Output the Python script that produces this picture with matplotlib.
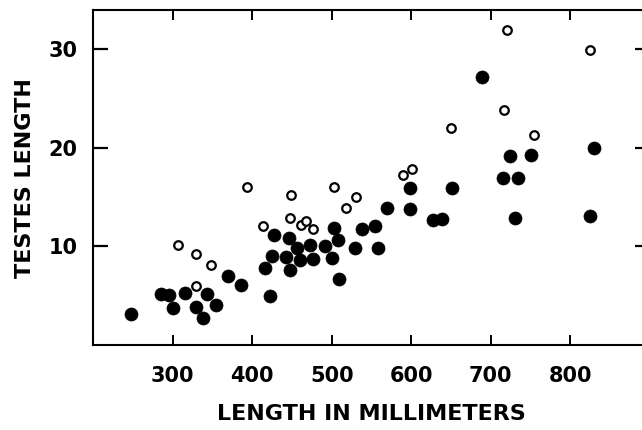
import matplotlib
matplotlib.use("Agg")
import matplotlib.pyplot as plt

# Filled circles
filled_x = [248, 285, 296, 301, 315, 329, 338, 343, 355, 370, 386, 416, 423, 425, 428,
            443, 446, 448, 457, 460, 473, 477, 491, 500, 503, 508, 509, 529, 538, 554,
            558, 570, 598, 599, 627, 639, 651, 689, 715, 724, 730, 734, 751, 824, 830]
filled_y = [3.1, 5.2, 5.1, 3.8, 5.3, 3.9, 2.7, 5.2, 4.1, 7.0, 6.1, 7.8, 5.0, 9.0, 11.2,
            8.9, 10.9, 7.6, 9.8, 8.6, 10.2, 8.7, 10.0, 8.8, 11.9, 10.7, 6.7, 9.8, 11.8, 12.1,
            9.8, 13.9, 13.8, 15.9, 12.7, 12.8, 15.9, 27.2, 16.9, 19.2, 12.9, 16.9, 19.3, 13.1, 20.0]

# Open circles
open_x = [307, 329, 330, 348, 394, 414, 448, 449, 462, 468, 477, 503, 518, 530,
          589, 601, 650, 716, 720, 754, 825]
open_y = [10.1, 6.0, 9.2, 8.1, 16.0, 12.1, 12.9, 15.2, 12.2, 12.6, 11.8, 16.0, 13.9, 15.0,
          17.3, 17.9, 22.0, 23.9, 32.0, 21.3, 29.9]

x_ticks = [300, 400, 500, 600, 700, 800]
y_ticks = [10, 20, 30]
x_label = "LENGTH IN MILLIMETERS"
y_label = "TESTES LENGTH"

plt.rcParams['font.family'] = ['DejaVu Sans']

fig = plt.figure(figsize=(6.42, 4.30), dpi=100)
ax = fig.add_axes([93/642, 1 - 345/430, (650 - 93)/642, (345 - 10)/430])

ax.scatter(filled_x, filled_y, s=88, c='black', edgecolors='black', linewidths=0.5, zorder=3)
ax.scatter(open_x, open_y, s=38, facecolors='white', edgecolors='black', linewidths=1.6, zorder=4)

ax.set_xlim(200, 900)
ax.set_ylim(0, 34)

for sp in ax.spines.values():
    sp.set_linewidth(1.5)
    sp.set_color('black')

ax.set_xticks(x_ticks)
ax.set_yticks(y_ticks)
ax.tick_params(axis='x', direction='in', length=7, width=1.4, top=True, bottom=True,
               pad=15, labelsize=15)
ax.tick_params(axis='y', direction='in', length=11, width=1.6, left=True, right=True,
               pad=11, labelsize=15)
for lbl in ax.get_xticklabels() + ax.get_yticklabels():
    lbl.set_fontweight('bold')

fig.text(371/642, 1 - 414/430, x_label, ha='center', va='center', fontsize=16,
         fontweight='bold')
fig.text(25/642, 1 - 178/430, y_label, ha='center', va='center', rotation=90,
         fontsize=16, fontweight='bold')

fig.savefig("out.png", dpi=100)
